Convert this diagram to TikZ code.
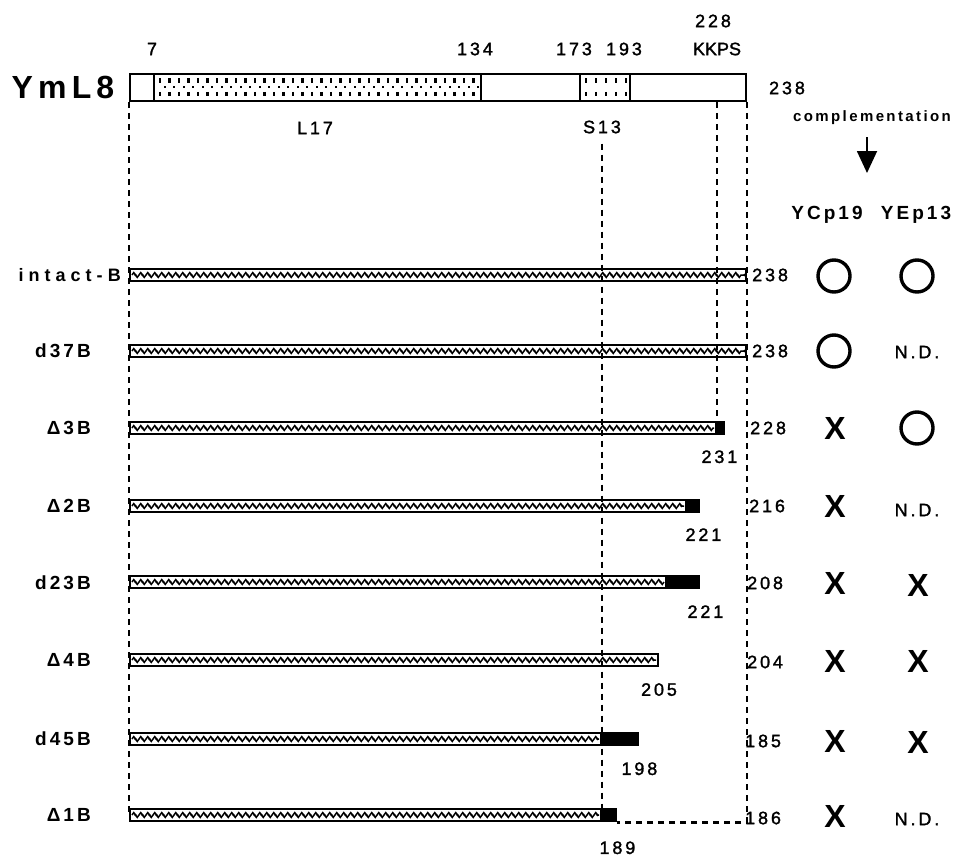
\documentclass[tikz,border=0pt]{standalone}
\usepackage{fontspec}
\setmainfont{Liberation Sans}
\newfontfamily\trk[LetterSpace=16]{Liberation Sans}
\newfontfamily\trkw[LetterSpace=28]{Liberation Sans}
\newfontfamily\numfont[LetterSpace=16,FakeBold=1.5]{Liberation Sans}
\newfontfamily\plainfont[FakeBold=1.5]{Liberation Sans}
\usetikzlibrary{arrows.meta,positioning,decorations.pathmorphing}

\tikzset{
  num/.style={font=\numfont\fontsize{18}{20}\selectfont, inner sep=0pt},
  rowlab/.style={font=\trk\bfseries\fontsize{19}{21}\selectfont, inner sep=0pt, anchor=east},
  head/.style={font=\trk\bfseries\fontsize{19}{21}\selectfont, inner sep=0pt},
  guide/.style={line width=2.6pt, dash pattern=on 6pt off 5pt},
  protbox/.style={draw, line width=2pt, fill=white, inner sep=0pt, minimum height=27pt, anchor=west},
  tick/.style={line width=2.2pt},
  barbody/.style={draw, line width=2pt, fill=white, inner sep=0pt, minimum height=12pt, anchor=west},
  stub/.style={fill=black, inner sep=0pt, minimum height=14pt, anchor=west},
  beads/.style={decorate, decoration={zigzag, segment length=7pt, amplitude=2.4pt}, line width=1.5pt},
  beaddots/.style={line width=2.8pt, dash pattern=on 0pt off 7pt, line cap=round},
  okmark/.style={draw, circle, line width=3.4pt, minimum size=32pt, inner sep=0pt},
  nomark/.style={font=\bfseries\fontsize{32}{32}\selectfont, inner sep=0pt},
  ndmark/.style={font=\numfont\fontsize{18}{20}\selectfont, inner sep=0pt},
}

\begin{document}
\begin{tikzpicture}[x=1pt,y=-1pt]
  \useasboundingbox[fill=white] (0,0) rectangle (968,856);

  % YmL8 protein
  \node[font=\trk\bfseries\fontsize{32}{32}\selectfont, inner sep=0pt] (ymlname) at (63,87) {YmL8};
  \node[protbox, minimum width=616pt] (yml) at (129,87.5) {};
  \node[protbox, minimum width=327pt] (l17box) at (153,87.5) {};
  \node[protbox, minimum width=50pt] (s13box) at (579,87.5) {};
  \foreach \x in {160,169.5,...,475} {
    \draw[tick] (\x,78.5) -- (\x,83);
    \draw[tick] (\x,92) -- (\x,96.5);
    \draw[tick] (\x+4.75,86.5) -- (\x+4.75,88.5);
  }
  \foreach \x in {586,596,...,626} {
    \draw[tick] (\x,78.5) -- (\x,83);
    \draw[tick] (\x,92) -- (\x,96.5);
  }
  \node[num] (p7) at (152,49) {7};
  \node[num] (p134) at (475,49) {134};
  \node[num] (p173) at (574,49) {173};
  \node[num] (p193) at (624,49) {193};
  \node[num] (p228) at (713,21) {228};
  \node[font=\plainfont\fontsize{18}{20}\selectfont, inner sep=0pt] (kkps) at (717,49) {KKPS};
  \node[num] (p238) at (787,88) {238};
  \node[num] (l17) at (315,128) {L17};
  \node[num] (s13) at (602,127) {S13};

  % complementation header
  \node[font=\trk\bfseries\fontsize{15}{17}\selectfont, inner sep=0pt] (compl) at (872,118) {complementation};
  \coordinate (arrowtip) at (867,173);
  \draw[-{Triangle[length=22pt,width=20pt]}, line width=1.8pt] ([yshift=-12pt]compl.south -| arrowtip) -- (arrowtip);
  \node[head] (ycp) at (827,215) {YCp19};
  \node[head] (yep) at (916,215) {YEp13};

  % constructs
  \node[barbody, minimum width=616pt] (b-intact) at (129,275) {};
  \node[barbody, minimum width=616pt] (b-d37) at (129,351) {};
  \node[barbody, minimum width=586pt] (b-d3) at (129,428) {};
  \node[stub, minimum width=10pt] (s-d3) at (715,428) {};
  \node[barbody, minimum width=556pt] (b-d2) at (129,506) {};
  \node[stub, minimum width=15pt] (s-d2) at (685,506) {};
  \node[barbody, minimum width=536pt] (b-d23) at (129,582) {};
  \node[stub, minimum width=35pt] (s-d23) at (665,582) {};
  \node[barbody, minimum width=528pt] (b-d4) at (129,660) {};
  \node[barbody, minimum width=471pt] (b-d45) at (129,739) {};
  \node[stub, minimum width=39pt] (s-d45) at (600,739) {};
  \node[barbody, minimum width=471pt] (b-d1) at (129,815) {};
  \node[stub, minimum width=17pt] (s-d1) at (600,815) {};

  \draw[beads] ([xshift=3pt]b-intact.west) -- ([xshift=-3pt]b-intact.east);
  \draw[beads] ([xshift=3pt]b-d37.west) -- ([xshift=-3pt]b-d37.east);
  \draw[beads] ([xshift=3pt]b-d3.west) -- ([xshift=-3pt]b-d3.east);
  \draw[beads] ([xshift=3pt]b-d2.west) -- ([xshift=-3pt]b-d2.east);
  \draw[beads] ([xshift=3pt]b-d23.west) -- ([xshift=-3pt]b-d23.east);
  \draw[beads] ([xshift=3pt]b-d4.west) -- ([xshift=-3pt]b-d4.east);
  \draw[beads] ([xshift=3pt]b-d45.west) -- ([xshift=-3pt]b-d45.east);
  \draw[beads] ([xshift=3pt]b-d1.west) -- ([xshift=-3pt]b-d1.east);
  \draw[beaddots] ([xshift=6.5pt]b-intact.west) -- (b-intact.east);
  \draw[beaddots] ([xshift=6.5pt]b-d37.west) -- (b-d37.east);
  \draw[beaddots] ([xshift=6.5pt]b-d3.west) -- (b-d3.east);
  \draw[beaddots] ([xshift=6.5pt]b-d2.west) -- (b-d2.east);
  \draw[beaddots] ([xshift=6.5pt]b-d23.west) -- (b-d23.east);
  \draw[beaddots] ([xshift=6.5pt]b-d4.west) -- (b-d4.east);
  \draw[beaddots] ([xshift=6.5pt]b-d45.west) -- (b-d45.east);
  \draw[beaddots] ([xshift=6.5pt]b-d1.west) -- (b-d1.east);

  % guide lines
  \draw[guide] (yml.south west) -- (b-d1.west);
  \draw[guide] (yml.south east) -- (yml.south east |- s-d1.south) -- (s-d1.south east);
  \draw[guide] ([yshift=-10pt]s13.south) -- (s13 |- b-d1.north);
  \draw[guide] (kkps |- yml.south) -- (kkps |- s-d3.north);

  % construct names
  \node[rowlab, font=\trkw\bfseries\fontsize{18}{20}\selectfont] (n-intact) at (121,275) {intact-B};
  \node[rowlab] (n-d37) at (91,351) {d37B};
  \node[rowlab] (n-d3) at (91,428) {Δ3B};
  \node[rowlab] (n-d2) at (91,506) {Δ2B};
  \node[rowlab] (n-d23) at (91,583) {d23B};
  \node[rowlab] (n-d4) at (91,660) {Δ4B};
  \node[rowlab] (n-d45) at (91,739) {d45B};
  \node[rowlab] (n-d1) at (91,815) {Δ1B};

  % end numbers
  \node[num, anchor=west] (r-intact) at (752,275) {238};
  \node[num, anchor=west] (r-d37) at (752,351) {238};
  \node[num, anchor=west] (r-d3) at (750,428) {228};
  \node[num, anchor=west] (r-d2) at (749,506) {216};
  \node[num, anchor=west] (r-d23) at (747,583) {208};
  \node[num, anchor=west] (r-d4) at (747,662) {204};
  \node[num, anchor=west] (r-d45) at (745,741) {185};
  \node[num, anchor=west] (r-d1) at (745,818) {186};
  \node[num, below=15pt of s-d3.south east, xshift=-6pt] (e-d3) {231};
  \node[num, below=15pt of s-d2.south east, xshift=3pt] (e-d2) {221};
  \node[num, below=16pt of s-d23.south east, xshift=5pt] (e-d23) {221};
  \node[num, below=16pt of b-d4.south east] (e-d4) {205};
  \node[num, below=16pt of s-d45.south east] (e-d45) {198};
  \node[num, below=19pt of s-d1.south east] (e-d1) {189};

  % complementation results
  \node[okmark] (c-intact) at (834,276) {};
  \node[okmark] (y-intact) at (917,276) {};
  \node[okmark] (c-d37) at (834,351) {};
  \node[ndmark] (y-d37) at (917,352) {N.D.};
  \node[nomark] (c-d3) at (835,428) {X};
  \node[okmark] (y-d3) at (917,428) {};
  \node[nomark] (c-d2) at (835,506) {X};
  \node[ndmark] (y-d2) at (917,510) {N.D.};
  \node[nomark] (c-d23) at (835,583) {X};
  \node[nomark] (y-d23) at (918,585) {X};
  \node[nomark] (c-d4) at (835,661) {X};
  \node[nomark] (y-d4) at (918,661) {X};
  \node[nomark] (c-d45) at (835,741) {X};
  \node[nomark] (y-d45) at (918,742) {X};
  \node[nomark] (c-d1) at (835,816) {X};
  \node[ndmark] (y-d1) at (917,819) {N.D.};
\end{tikzpicture}
\end{document}
